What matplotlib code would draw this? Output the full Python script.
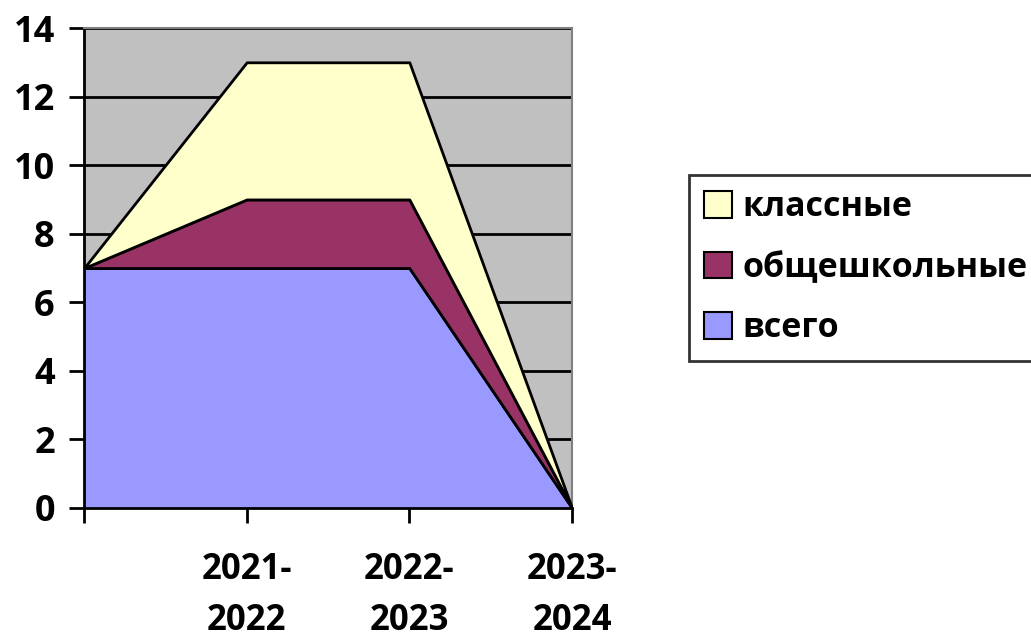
import matplotlib.pyplot as plt
from matplotlib.patches import Patch

plt.rcParams['font.family'] = ['Open Sans', 'DejaVu Sans']
plt.rcParams['font.weight'] = 'bold'

# data
years = ['', '2021-\n2022', '2022-\n2023', '2023-\n2024']
vsego = [7, 7, 7, 0]
obshcheshk = [0, 2, 2, 0]
klassnye = [0, 4, 4, 0]

fig = plt.figure(figsize=(10.31, 6.41), dpi=100)
ax = fig.add_axes([0.0815, 0.2075, 0.4733, 0.7488])
ax.set_facecolor('#C0C0C0')

x = list(range(len(years)))
ax.stackplot(x, vsego, obshcheshk, klassnye,
             colors=['#9999FF', '#993366', '#FFFFCC'],
             edgecolor='black', linewidth=2, zorder=3)

ax.set_xlim(0, 3)
ax.set_ylim(0, 14)
ax.set_yticks(range(0, 15, 2))
ax.set_xticks(x)
ax.set_xticklabels(years, linespacing=1.55, fontweight='bold')
for lab in ax.get_yticklabels():
    lab.set_fontweight('bold')
ax.grid(axis='y', color='black', linewidth=2, zorder=1)
ax.tick_params(axis='both', direction='out', length=11, width=2,
               labelsize=26, color='black')
ax.tick_params(axis='x', labelsize=25, pad=21)
ax.tick_params(axis='y', pad=10)

for side in ['top', 'right']:
    ax.spines[side].set_color('#808080')
    ax.spines[side].set_linewidth(1.5)
for side in ['left', 'bottom']:
    ax.spines[side].set_color('black')
    ax.spines[side].set_linewidth(2)

handles = [Patch(facecolor='#FFFFCC', edgecolor='black', linewidth=1.5, label='классные'),
           Patch(facecolor='#993366', edgecolor='black', linewidth=1.5, label='общешкольные'),
           Patch(facecolor='#9999FF', edgecolor='black', linewidth=1.5, label='всего')]
leg = fig.legend(handles=handles, loc='upper left', bbox_to_anchor=(0.6683, 0.727),
                 prop={'size': 24.5, 'weight': 'bold'}, frameon=True, fancybox=False,
                 edgecolor='black', handlelength=0.82, handleheight=0.82,
                 handletextpad=0.3, labelspacing=0.78, borderpad=0.45, borderaxespad=0)
leg.get_frame().set_linewidth(2)

fig.savefig('out.png', dpi=100)
